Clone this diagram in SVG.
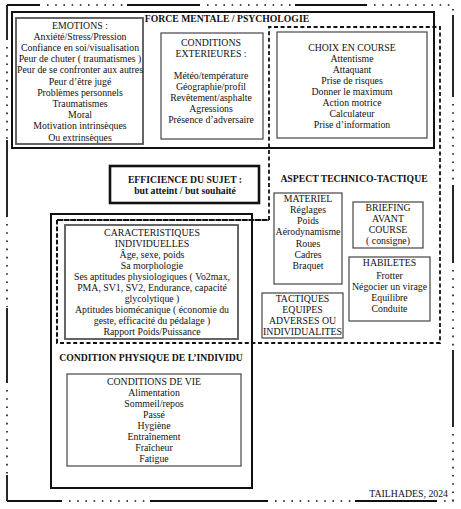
<svg xmlns="http://www.w3.org/2000/svg" width="461" height="509" viewBox="0 0 461 509">
<style>
text{font-family:"Liberation Serif","Times New Roman",serif;font-size:9.8px;fill:#111;text-anchor:middle}
.b{font-weight:bold;font-size:9.7px}
.solid{fill:none;stroke:#111;stroke-width:1.8}
.dots{fill:none;stroke:#111;stroke-width:1.6;stroke-dasharray:1.6 6.6}
.dash{fill:none;stroke:#111;stroke-width:1.8;stroke-dasharray:4 2.6}
.box{fill:#fff;stroke:#444;stroke-width:1.2}
.gbox{fill:#fff;stroke:#555;stroke-width:1.8}
.heavy{fill:none;stroke:#111;stroke-width:2}
</style>
<rect width="461" height="509" fill="#fff"/>
<g id="outer-border">
<path class="solid" d="M7,5H40M127,5H200M295,5H367M453,15V97M453,185V263M453,350V427M7,501H62M150,501H268M355,501H437M7,5V40M7,140V217M7,308V383M7,475V501"/>
<path class="dots" d="M47,5H125M207,5H293M374,5H454M453,9V14M453,104V184M453,270V349M453,434V502M69,501H149M275,501H354M444,501H454M7,47V139M7,224V307M7,390V474"/>
</g>
<g id="force-mentale">
<rect class="heavy" x="12" y="12" width="422" height="136"/>
<text class="b" x="227" y="22">FORCE MENTALE / PSYCHOLOGIE</text>
</g>
<g id="aspect-region">
<path class="dash" d="M269,220V27H440V343H57V220H269"/>
</g>
<g id="emotions">
<rect class="gbox" x="16" y="18" width="127" height="126"/>
<text x="80" y="28.5">EMOTIONS :</text>
<text x="80" y="39.7">Anxiété/Stress/Pression</text>
<text x="80" y="50.9">Confiance en soi/visualisation</text>
<text x="80" y="62.1">Peur de chuter ( traumatismes )</text>
<text x="80" y="73.3">Peur de se confronter aux autres</text>
<text x="80" y="84.5">Peur d’être jugé</text>
<text x="80" y="95.7">Problèmes personnels</text>
<text x="80" y="106.9">Traumatismes</text>
<text x="80" y="118.1">Moral</text>
<text x="80" y="129.3">Motivation intrinsèques</text>
<text x="80" y="140.5">Ou extrinsèques</text>
</g>
<g id="conditions-exterieures">
<rect class="box" x="161" y="33" width="102" height="106"/>
<text x="211" y="45.5">CONDITIONS</text>
<text x="211" y="56.5">EXTERIEURES :</text>
<text x="211" y="78.5">Météo/température</text>
<text x="211" y="89.5">Géographie/profil</text>
<text x="211" y="100.5">Revêtement/asphalte</text>
<text x="211" y="111.5">Agressions</text>
<text x="211" y="122.5">Présence d’adversaire</text>
</g>
<g id="choix-en-course">
<rect class="box" x="277" y="32" width="150" height="106"/>
<text x="352" y="50.5">CHOIX EN COURSE</text>
<text x="352" y="61.6">Attentisme</text>
<text x="352" y="72.7">Attaquant</text>
<text x="352" y="83.8">Prise de risques</text>
<text x="352" y="94.9">Donner le maximum</text>
<text x="352" y="106">Action motrice</text>
<text x="352" y="117.1">Calculateur</text>
<text x="352" y="128.2">Prise d’information</text>
</g>
<g id="efficience">
<rect x="110" y="166" width="149" height="37" fill="#fff" stroke="#111" stroke-width="2.6"/>
<text class="b" x="185" y="182.5">EFFICIENCE DU SUJET :</text>
<text class="b" x="185" y="193.5">but atteint / but souhaité</text>
</g>
<g id="aspect-title">
<text class="b" x="354" y="181.5">ASPECT TECHNICO-TACTIQUE</text>
</g>
<g id="materiel">
<rect class="box" x="274" y="193" width="68" height="91"/>
<text x="308" y="201.5">MATERIEL</text>
<text x="308" y="212.8">Réglages</text>
<text x="308" y="224.1">Poids</text>
<text x="308" y="235.4">Aérodynamisme</text>
<text x="308" y="246.7">Roues</text>
<text x="308" y="258">Cadres</text>
<text x="308" y="269.3">Braquet</text>
</g>
<g id="briefing">
<rect class="box" x="353" y="202" width="70" height="46"/>
<text x="388" y="210.5">BRIEFING</text>
<text x="388" y="221.5">AVANT</text>
<text x="388" y="232.5">COURSE</text>
<text x="388" y="243.5">( consigne)</text>
</g>
<g id="habiletes">
<rect class="box" x="349" y="257" width="81" height="64"/>
<text x="389.5" y="266">HABILETES</text>
<text x="389.5" y="278.5">Frotter</text>
<text x="389.5" y="289.5">Négocier un virage</text>
<text x="389.5" y="300.5">Equilibre</text>
<text x="389.5" y="311.5">Conduite</text>
</g>
<g id="tactiques">
<rect class="box" x="262" y="293" width="81" height="45"/>
<text x="302.5" y="301.5">TACTIQUES</text>
<text x="302.5" y="312.5">EQUIPES</text>
<text x="302.5" y="323.5">ADVERSES OU</text>
<text x="302.5" y="334.5">INDIVIDUALITES</text>
</g>
<g id="condition-physique">
<path class="heavy" d="M51,214H252V488H51Z"/>
<text class="b" x="151" y="360.5">CONDITION PHYSIQUE DE L’INDIVIDU</text>
</g>
<g id="caracteristiques">
<path class="dash" d="M57,220H269M57,220V343"/>
<rect class="gbox" x="65" y="225" width="173" height="114"/>
<text x="152" y="235.5">CARACTERISTIQUES</text>
<text x="152" y="246.5">INDIVIDUELLES</text>
<text x="152" y="257.5">Âge, sexe, poids</text>
<text x="152" y="268.5">Sa morphologie</text>
<text x="152" y="279.5">Ses aptitudes physiologiques ( Vo2max,</text>
<text x="152" y="290.5">PMA, SV1, SV2, Endurance, capacité</text>
<text x="152" y="301.5">glycolytique )</text>
<text x="152" y="312.5">Aptitudes biomécanique ( économie du</text>
<text x="152" y="323.5">geste, efficacité du pédalage )</text>
<text x="152" y="334.5">Rapport Poids/Puissance</text>
</g>
<g id="conditions-de-vie">
<rect class="box" x="67" y="374" width="174" height="92"/>
<text x="154" y="384.5">CONDITIONS DE VIE</text>
<text x="154" y="395.5">Alimentation</text>
<text x="154" y="406.5">Sommeil/repos</text>
<text x="154" y="417.5">Passé</text>
<text x="154" y="428.5">Hygiène</text>
<text x="154" y="439.5">Entraînement</text>
<text x="154" y="450.5">Fraîcheur</text>
<text x="154" y="461.5">Fatigue</text>
</g>
<g id="credit">
<text x="448" y="496.5" style="text-anchor:end">TAILHADES, 2024</text>
</g>
</svg>
